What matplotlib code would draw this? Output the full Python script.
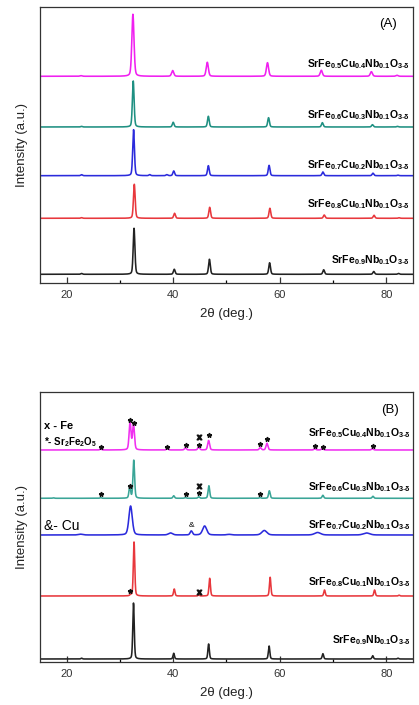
import numpy as np
import matplotlib
matplotlib.use("Agg")
import matplotlib.pyplot as plt
from matplotlib.ticker import MultipleLocator

plt.rcParams['font.family'] = ['Liberation Sans', 'DejaVu Sans']
plt.rcParams['mathtext.fontset'] = 'custom'
plt.rcParams['mathtext.rm'] = 'Liberation Sans'
plt.rcParams['mathtext.bf'] = 'Liberation Sans:bold'
plt.rcParams['mathtext.it'] = 'Liberation Sans:italic'

# ---- data (peak positions in 2theta, heights in plot units) ----
labels = [r'$\mathbf{SrFe_{0.9}Nb_{0.1}O_{3\text{-}\delta}}$',
          r'$\mathbf{SrFe_{0.8}Cu_{0.1}Nb_{0.1}O_{3\text{-}\delta}}$',
          r'$\mathbf{SrFe_{0.7}Cu_{0.2}Nb_{0.1}O_{3\text{-}\delta}}$',
          r'$\mathbf{SrFe_{0.6}Cu_{0.3}Nb_{0.1}O_{3\text{-}\delta}}$',
          r'$\mathbf{SrFe_{0.5}Cu_{0.4}Nb_{0.1}O_{3\text{-}\delta}}$']
colors_a = ['#222222', '#e8383d', '#2b2bdc', '#1f9082', '#f020f0']
colors_b = ['#222222', '#e8383d', '#2b2bdc', '#3aa597', '#f030f0']

# panel A (calcined)
A_offsets = [8.7, 64.7, 107.3, 156.0, 206.7]
A_label_y = [23.7, 79.0, 118.3, 168.0, 219.0]
A_pos = [[22.8, 32.65, 40.2, 46.8, 58.1, 68.25, 77.65, 82.3],
         [22.8, 32.7, 40.25, 46.85, 58.15, 68.35, 77.7, 82.4],
         [22.8, 32.56, 35.6, 38.8, 40.1, 46.6, 58.0, 68.1, 77.5, 82.2],
         [22.8, 32.5, 40.0, 46.6, 57.9, 68.0, 77.4, 82.1],
         [22.7, 32.44, 39.9, 46.4, 57.7, 67.8, 77.2, 82.0]]
A_hgt = [[0.8, 46.0, 5.0, 15.0, 11.5, 4.5, 2.8, 0.8],
         [0.6, 34.0, 5.0, 11.0, 10.0, 3.3, 3.0, 0.5],
         [1.0, 46.0, 1.0, 1.0, 4.7, 10.0, 10.3, 3.7, 2.5, 0.5],
         [0.6, 46.0, 4.7, 10.7, 9.3, 4.3, 2.3, 0.6],
         [0.6, 62.0, 5.7, 14.0, 13.6, 6.0, 4.6, 1.0]]
A_wid = [0.38, 0.38, 0.38, 0.38, 0.48]

# panel B (reduced)
B_offsets = [3.0, 66.0, 127.0, 163.7, 212.0]
B_label_y = [22.0, 80.0, 137.7, 175.3, 229.7]
B_pos = [[22.8, 32.55, 40.1, 46.65, 58.0, 68.1, 77.45, 82.2],
         [32.0, 32.65, 40.2, 44.8, 46.85, 58.2, 68.4, 77.8, 82.4],
         [22.6, 32.0, 39.5, 43.4, 45.9, 50.5, 57.1, 67.1, 76.3],
         [17.5, 26.4, 31.85, 32.6, 40.1, 42.3, 44.8, 46.7, 56.3, 58.05, 68.1, 77.5],
         [26.4, 31.9, 32.55, 38.9, 42.3, 44.8, 46.65, 56.35, 57.6, 66.6, 68.0, 77.4]]
B_hgt = [[0.8, 56.0, 5.7, 15.0, 13.0, 5.3, 3.3, 0.8],
         [1.0, 54.0, 7.0, 1.0, 17.7, 18.7, 6.0, 6.0, 0.8],
         [0.8, 29.0, 2.0, 4.0, 9.0, 0.6, 4.5, 2.5, 2.0],
         [0.5, 0.6, 11.6, 38.0, 2.5, 0.8, 1.5, 12.5, 0.8, 7.5, 3.0, 2.0],
         [0.8, 28.0, 25.0, 1.2, 2.0, 3.0, 9.5, 2.5, 6.7, 1.2, 1.5, 1.2]]
B_wid = [[0.32] * 8,
         [0.32] * 9,
         [1.0, 0.75, 0.9, 0.5, 0.9, 1.0, 1.1, 1.3, 1.4],
         [0.36] * 12,
         [0.42] * 12]

# phase markers in panel B (2theta, plot units)
star_x = [26.44, 31.82, 32.6, 38.87, 42.37, 44.75, 46.69, 56.38, 57.56, 66.6, 68.06, 77.57,
          26.44, 31.82, 42.37, 44.75, 56.38, 31.8]
star_y = [214.7, 241.7, 239.0, 215.0, 216.7, 216.7, 226.7, 218.0, 223.3, 216.0, 215.3, 216.3,
          167.7, 176.3, 167.7, 168.7, 168.3, 71.0]
fe_x = [44.75, 44.75, 44.8]
fe_y = [224.7, 176.3, 69.7]
cu_x = [43.4]
cu_y = [136.0]

tt = np.linspace(15, 85, 4000)


def pattern(pos, hgt, wid, offset):
    wid = np.broadcast_to(wid, len(pos))
    y = np.full_like(tt, offset)
    for p, h, w in zip(pos, hgt, wid):
        g = np.exp(-4 * np.log(2) * ((tt - p) / w) ** 2)
        lo = 1 / (1 + 4 * ((tt - p) / w) ** 2)
        y += h * (0.7 * g + 0.3 * lo)
    return y


fig = plt.figure(figsize=(4.19, 7.05), dpi=100, facecolor='white')
axA = fig.add_axes([0.0955, 0.5986, 0.890, 0.3915])
axB = fig.add_axes([0.0955, 0.0610, 0.890, 0.3830])


def style(ax, ymax):
    ax.set_xlim(15, 85)
    ax.set_ylim(0, ymax)
    ax.set_yticks([])
    ax.xaxis.set_major_locator(MultipleLocator(20))
    ax.xaxis.set_minor_locator(MultipleLocator(10))
    ax.tick_params(axis='x', which='major', direction='in', length=4.5, width=0.9,
                   labelsize=8, pad=5, colors='#333333')
    ax.tick_params(axis='x', which='minor', direction='in', length=2.2, width=0.9)
    for s in ax.spines.values():
        s.set_color('#333333')
        s.set_linewidth(0.9)
    ax.set_xlabel('2θ (deg.)', fontsize=9.5, labelpad=6, color='#222222')
    ax.set_ylabel('Intensity (a.u.)', fontsize=9.5, labelpad=9, color='#222222')


for i in range(5):
    axA.plot(tt, pattern(A_pos[i], A_hgt[i], A_wid[i], A_offsets[i]), color=colors_a[i], lw=1.15)
    axA.text(84.4, A_label_y[i] - 3.5, labels[i], ha='right', va='baseline', fontsize=7.5)
style(axA, 276)
axA.text(80.4, 258.7, '(A)', ha='center', va='center', fontsize=9.5)

for i in range(5):
    axB.plot(tt, pattern(B_pos[i], B_hgt[i], B_wid[i], B_offsets[i]), color=colors_b[i], lw=1.15)
    axB.text(84.6, B_label_y[i] - 3.5, labels[i], ha='right', va='baseline', fontsize=7.5)
style(axB, 270)
axB.text(80.75, 252.0, '(B)', ha='center', va='center', fontsize=9.5)

axB.plot(star_x, star_y, ls='none', marker='*', ms=3.4, color='#111111')
axB.plot(fe_x, fe_y, ls='none', marker=r'$\mathbf{x}$', ms=3.4, color='#111111')
for x, y in zip(cu_x, cu_y):
    axB.text(x, y, '&', ha='center', va='center', fontsize=6)

axB.text(15.8, 236.3, 'x - Fe', ha='left', va='center', fontsize=8, fontweight='bold')
axB.text(15.8, 220.0, r'*- $\mathbf{Sr_2Fe_2O_5}$', ha='left', va='center', fontsize=7,
         fontweight='bold')
axB.text(15.8, 136.3, '&- Cu', ha='left', va='center', fontsize=10)

fig.savefig('out.png', dpi=100, facecolor='white')
